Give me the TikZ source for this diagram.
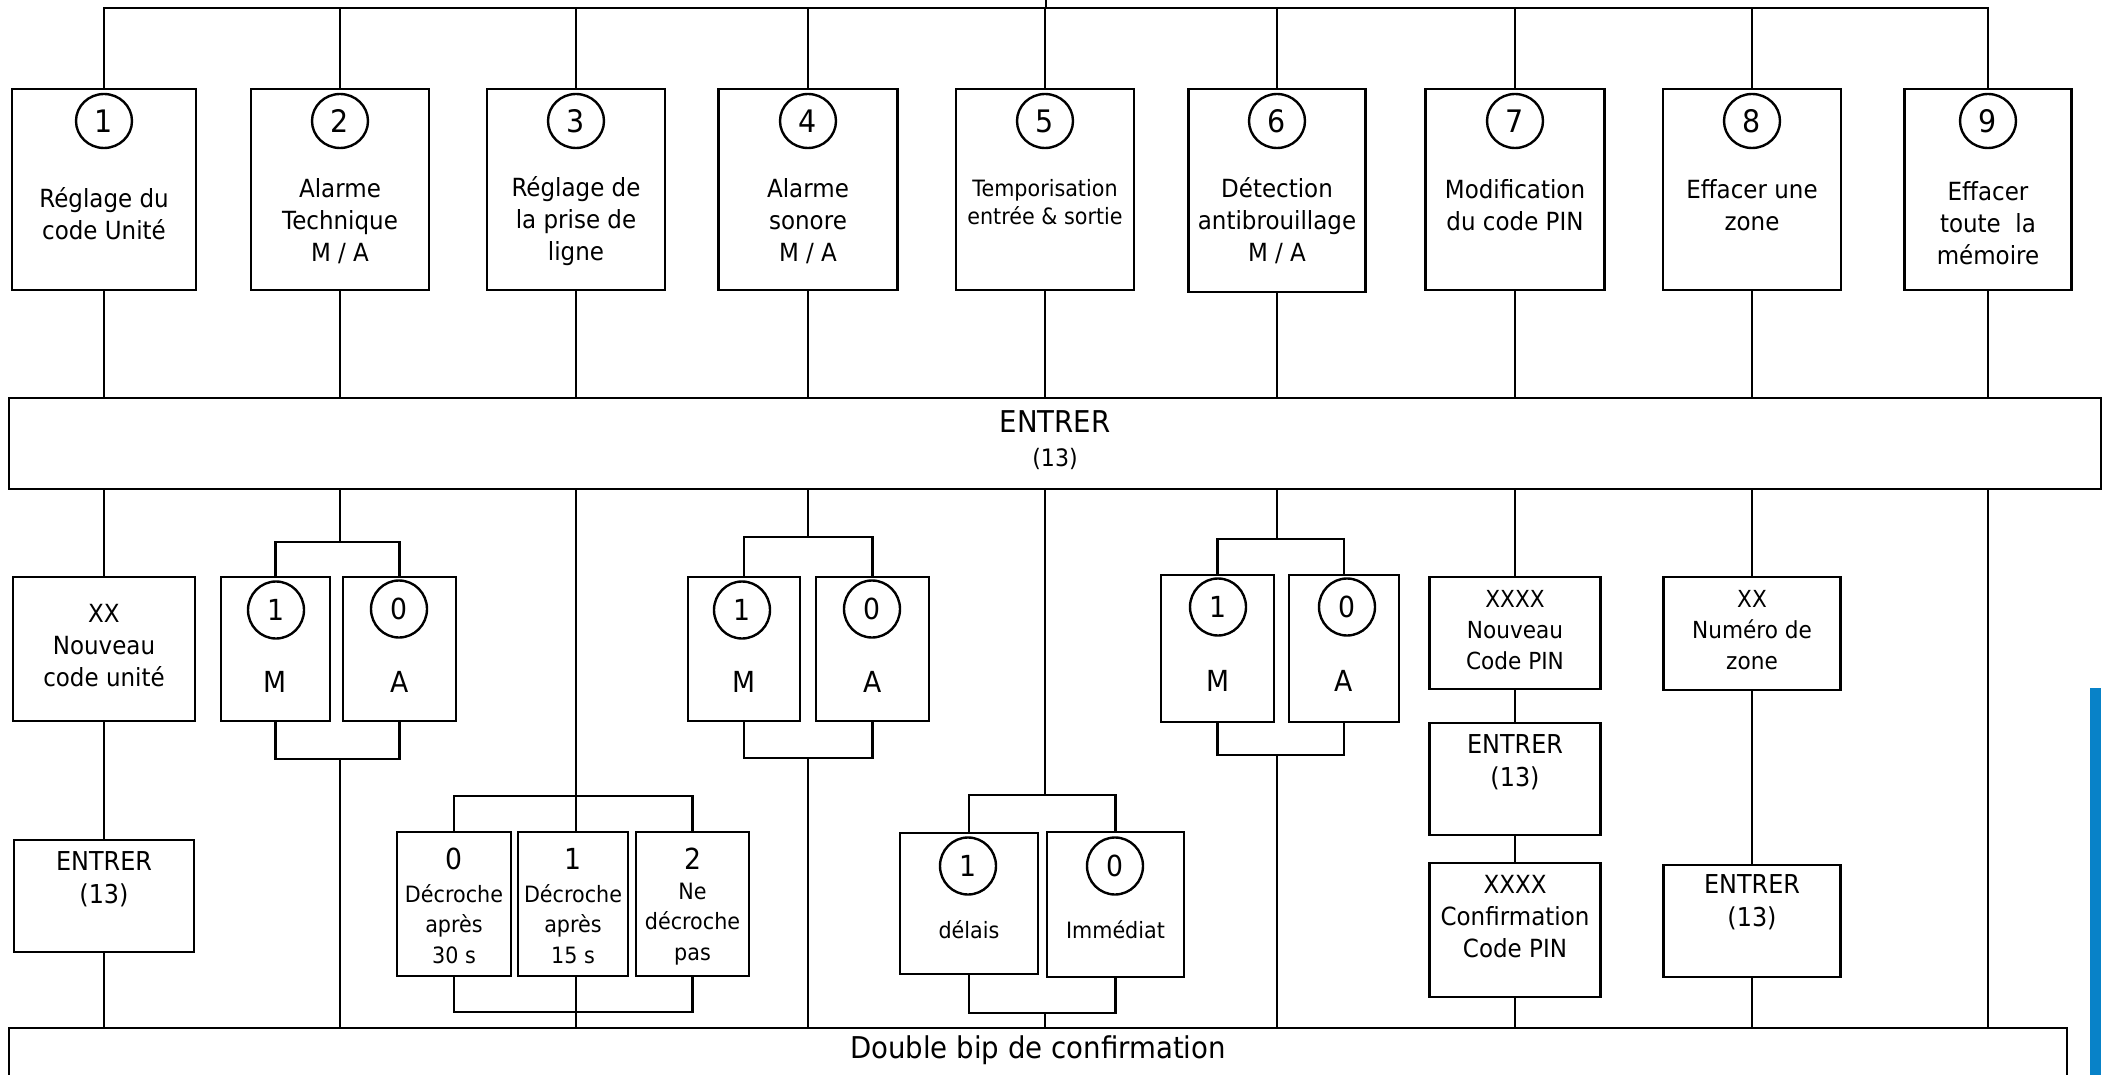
\documentclass[tikz,border=0pt]{standalone}
\usepackage{fontspec}
\setmainfont{DejaVu Sans}[FakeStretch=0.92]
\usetikzlibrary{shapes.geometric}
\definecolor{barblue}{RGB}{8,130,200}
\newcommand\mkbox[5]{\node[boxst, minimum width=#4pt, minimum height=#5pt] (#1) at (#2,#3) {};}
\begin{document}
\begin{tikzpicture}[x=1pt,y=-1pt,
  ln/.style={line width=2.4pt},
  boxst/.style={draw, line width=2.9pt, inner sep=0pt, outer sep=0pt},
  circ/.style={draw, ellipse, line width=2.4pt, inner sep=0pt, minimum width=56pt, minimum height=54pt, font=\fontsize{31}{34}\selectfont},
  scirc/.style={circ, minimum height=57pt, font=\fontsize{29}{32}\selectfont},
  txt/.style={align=center, inner sep=0pt, font=\fontsize{25}{32}\selectfont},
  stxt/.style={align=center, inner sep=0pt, font=\fontsize{22.5}{30.5}\selectfont},
  btxt/.style={align=center, inner sep=0pt, font=\fontsize{26}{33}\selectfont},
  dig/.style={inner sep=0pt, font=\fontsize{29}{32}\selectfont}]
\useasboundingbox (0,0) rectangle (2107,1075);

% ---- top boxes
\mkbox{b1}{104}{189.5}{184}{201}
\mkbox{b2}{340}{189.5}{178}{201}
\mkbox{b3}{576}{189.5}{178}{201}
\mkbox{b4}{808}{189.5}{179}{201}
\mkbox{b5}{1045}{189.5}{178}{201}
\mkbox{b6}{1277}{190.5}{177}{203}
\mkbox{b7}{1515}{189.5}{179}{201}
\mkbox{b8}{1752}{189.5}{178}{201}
\mkbox{b9}{1988}{189.5}{167}{201}

\coordinate (top) at (1046,0);
\coordinate (busL) at (104,8);
\draw[ln] (b1.north) -- (b1.north |- busL) -- (b9.north |- busL) -- (b9.north);
\draw[ln] (top) -- (top |- busL);
\foreach \i in {2,...,8} {\draw[ln] (b\i.north) -- (b\i.north |- busL);}

\foreach \i/\x in {1/104,2/340,3/576,4/808,5/1045,6/1277,7/1515,8/1752,9/1988}
  {\node[circ] (c\i) at (\x,121) {\i};}

\node[txt] (t1) at (104,214) {Réglage du\\code Unité};
\node[txt] (t2) at (340,221) {Alarme\\Technique\\M / A};
\node[txt] (t3) at (576,221) {Réglage de\\la prise de\\ligne};
\node[txt] (t4) at (808,221) {Alarme\\sonore\\M / A};
\node[align=center, inner sep=0pt, font=\fontsize{22.5}{28}\selectfont] (t5) at (1045,202) {Temporisation\\entrée \& sortie};
\node[txt] (t6) at (1277,221) {Détection\\antibrouillage\\M / A};
\node[txt] (t7) at (1515,205) {Modification\\du code PIN};
\node[txt] (t8) at (1752,205) {Effacer une\\zone};
\node[txt] (t9) at (1988,223) {Effacer\\toute~~la\\mémoire};

% ---- ENTRER bar
\mkbox{E}{1055}{443.5}{2092}{91}
\node[inner sep=0pt, font=\fontsize{30}{32}\selectfont] (Et1) at (1055,422) {ENTRER};
\node[inner sep=0pt, font=\fontsize{24}{26}\selectfont] (Et2) at (1055,459) {(13)};
\foreach \i in {1,...,9} {\draw[ln] (b\i.south) -- (b\i.south |- E.north);}

% ---- bottom bar
\mkbox{D}{1038}{1058}{2058}{60}
\node[inner sep=0pt, font=\fontsize{30}{32}\selectfont] (Dt) at (1038,1050) {Double bip de confirmation};

% ---- branch 1
\mkbox{xx1}{104}{649}{182}{144}
\mkbox{en1}{104}{896}{180}{112}
\draw[ln] (E.south -| b1.south) -- (xx1.north);
\draw[ln] (xx1.south) -- (en1.north);
\draw[ln] (en1.south) -- (en1.south |- D.north);
\node[txt] (xx1t) at (104,646) {XX\\Nouveau\\code unité};
\node[btxt] (en1t) at (104,879) {ENTRER\\(13)};

% ---- branch 2
\mkbox{m2}{275.5}{649}{109}{144}
\mkbox{a2}{399.5}{649}{113}{144}
\coordinate (br2t) at (340,542);
\coordinate (br2b) at (340,759);
\draw[ln] (E.south -| b2.south) -- (br2t);
\draw[ln] (m2.north) |- (br2t) -| (a2.north);
\draw[ln] (m2.south) |- (br2b) -| (a2.south);
\draw[ln] (br2b) -- (br2b |- D.north);
\node[scirc] (m2c) at (276,610) {1};
\node[scirc] (a2c) at (399,609) {0};
\node[dig] (m2t) at (275.5,682) {M};
\node[dig] (a2t) at (399.5,682) {A};

% ---- branch 3
\mkbox{d0}{454}{904}{114}{144}
\mkbox{d1}{573}{904}{110}{144}
\mkbox{d2}{692.5}{904}{113}{144}
\coordinate (br3t) at (576,796);
\coordinate (br3b) at (576,1012);
\draw[ln] (E.south -| b3.south) -- (b3.south |- d1.north);
\draw[ln] (b3.south |- d1.south) -- (b3.south |- D.north);
\draw[ln] (d0.north) |- (br3t) -| (d2.north);
\draw[ln] (d0.south) |- (br3b) -| (d2.south);
\node[dig] (d0n) at (454,859) {0};
\node[dig] (d1n) at (573,859) {1};
\node[dig] (d2n) at (692.5,859) {2};
\node[stxt] (d0t) at (454,924) {Décroche\\après\\30 s};
\node[stxt] (d1t) at (573,924) {Décroche\\après\\15 s};
\node[stxt] (d2t) at (692.5,924) {Ne\\décroche\\pas};

% ---- branch 4
\mkbox{m4}{744}{649}{112}{144}
\mkbox{a4}{872.5}{649}{113}{144}
\coordinate (br4t) at (808,537);
\coordinate (br4b) at (808,758);
\draw[ln] (E.south -| b4.south) -- (br4t);
\draw[ln] (m4.north) |- (br4t) -| (a4.north);
\draw[ln] (m4.south) |- (br4b) -| (a4.south);
\draw[ln] (br4b) -- (br4b |- D.north);
\node[scirc] (m4c) at (742,610) {1};
\node[scirc] (a4c) at (872,609) {0};
\node[dig] (m4t) at (744,682) {M};
\node[dig] (a4t) at (872.5,682) {A};

% ---- branch 5
\mkbox{dl}{969}{903.5}{138}{141}
\mkbox{im}{1115.5}{904.5}{137}{145}
\coordinate (br5t) at (1045,795);
\coordinate (br5b) at (1045,1013);
\draw[ln] (E.south -| b5.south) -- (br5t);
\draw[ln] (dl.north) |- (br5t) -| (im.north);
\draw[ln] (dl.south) |- (br5b) -| (im.south);
\draw[ln] (br5b) -- (br5b |- D.north);
\node[scirc] (dlc) at (968,866) {1};
\node[scirc] (imc) at (1115,866) {0};
\node[stxt] (dlt) at (969,930) {délais};
\node[stxt] (imt) at (1115.5,930) {Immédiat};

% ---- branch 6
\mkbox{m6}{1217.5}{648.5}{113}{147}
\mkbox{a6}{1344}{648.5}{110}{147}
\coordinate (br6t) at (1277,539);
\coordinate (br6b) at (1277,755);
\draw[ln] (E.south -| b6.south) -- (br6t);
\draw[ln] (m6.north) |- (br6t) -| (a6.north);
\draw[ln] (m6.south) |- (br6b) -| (a6.south);
\draw[ln] (br6b) -- (br6b |- D.north);
\node[scirc] (m6c) at (1218,607) {1};
\node[scirc] (a6c) at (1347,607) {0};
\node[dig] (m6t) at (1217.5,681) {M};
\node[dig] (a6t) at (1344,681) {A};

% ---- branch 7
\mkbox{np}{1515}{633}{171}{112}
\mkbox{en7}{1515}{779}{171}{112}
\mkbox{cf7}{1515}{930}{171}{134}
\draw[ln] (E.south -| b7.south) -- (np.north);
\draw[ln] (np.south) -- (en7.north);
\draw[ln] (en7.south) -- (cf7.north);
\draw[ln] (cf7.south) -- (cf7.south |- D.north);
\node[align=center, inner sep=0pt, font=\fontsize{23.5}{31}\selectfont] (npt) at (1515,630) {XXXX\\Nouveau\\Code PIN};
\node[btxt] (en7t) at (1515,762) {ENTRER\\(13)};
\node[txt] (cf7t) at (1515,917) {XXXX\\Confirmation\\Code PIN};

% ---- branch 8
\mkbox{zn}{1752}{633.5}{177}{113}
\mkbox{en8}{1752}{921}{177}{112}
\draw[ln] (E.south -| b8.south) -- (zn.north);
\draw[ln] (zn.south) -- (en8.north);
\draw[ln] (en8.south) -- (en8.south |- D.north);
\node[align=center, inner sep=0pt, font=\fontsize{23.5}{31}\selectfont] (znt) at (1752,630) {XX\\Numéro de\\zone};
\node[btxt] (en8t) at (1752,902) {ENTRER\\(13)};

% ---- branch 9
\draw[ln] (E.south -| b9.south) -- (D.north -| b9.south);

% ---- blue bar
\fill[barblue] (2090,688) rectangle (2101,1075);
\end{tikzpicture}
\end{document}
